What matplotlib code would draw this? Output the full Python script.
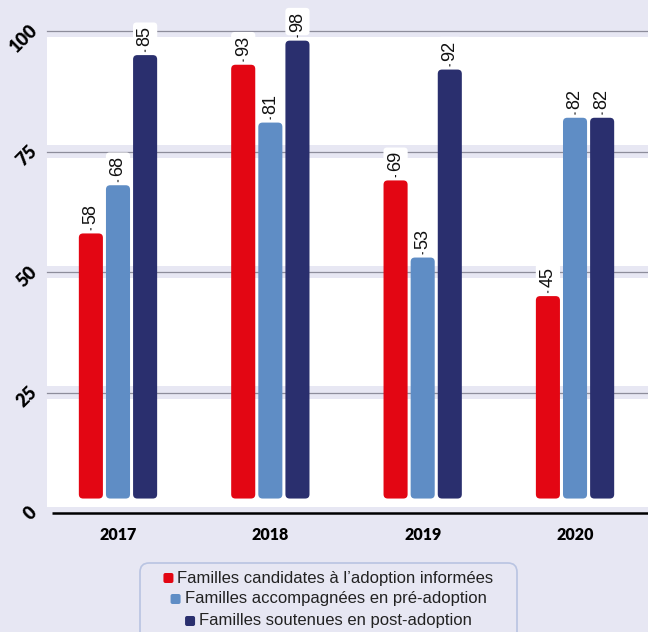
import matplotlib
matplotlib.use("Agg")
import matplotlib.pyplot as plt
import matplotlib.transforms as mtransforms
from matplotlib.patches import FancyBboxPatch
import numpy as np

years = ["2017", "2018", "2019", "2020"]
informees = [58, 93, 69, 45]
pre_adoption = [68, 81, 53, 82]
post_adoption = [95, 98, 92, 82]          # bar heights as drawn in the source
post_labels = ["85", "98", "92", "82"]    # value labels as printed in the source
series = ["Familles candidates à l\u2019adoption informées",
          "Familles accompagnées en pré-adoption",
          "Familles soutenues en post-adoption"]
yticks = [0, 25, 50, 75, 100]

BG = "#e7e7f3"; RED = "#e30613"; BLUE = "#5f8dc5"; NAVY = "#2a2f6e"
GRID = "#8d8d9b"
colors = [RED, BLUE, NAVY]

W, H = 648, 632
fig = plt.figure(figsize=(W/100, H/100), dpi=100)
fig.patch.set_facecolor(BG)

def fx(px): return px / W
def fy(py): return 1 - py / H

ax = fig.add_axes([fx(47), fy(513), 1 - fx(47), fy(31) - fy(513)])
ax.set_facecolor("white")
ax.set_ylim(0, 100)
ax.set_xlim(-0.466, 3.479)
for s in ax.spines.values():
    s.set_visible(False)

# grid bands + lines
for t in yticks:
    ax.axhspan(t - 1.3, t + 1.3, color=BG, lw=0, zorder=1, clip_on=False)
    if t > 0:
        ax.axhline(t, color=GRID, lw=0.9, zorder=1.5, clip_on=False)
ax.plot([0.008, 1], [0, 0], transform=ax.transAxes, color="black", lw=1.8,
        zorder=3, clip_on=False, solid_capstyle="butt")

x = np.arange(len(years))
offs = [-0.178, 0.0, 0.178]
bw = 0.158
base = 3
asp = (100 / 482) / (1 / 152.3)

label_sets = [[str(v) for v in informees], [str(v) for v in pre_adoption], post_labels]
for vals, labs, col, off in zip([informees, pre_adoption, post_adoption], label_sets, colors, offs):
    bars = ax.bar(x + off, np.array(vals) - base, bottom=base, width=bw, color=col)
    for b, lab in zip(bars, labs):
        bx, by, w_, h_ = b.get_x(), b.get_y(), b.get_width(), b.get_height()
        b.set_visible(False)
        ax.add_patch(FancyBboxPatch((bx, by), w_, h_,
                     boxstyle="round,pad=0,rounding_size=0.028",
                     mutation_aspect=asp, fc=col, ec="none", zorder=2))
        ax.annotate(lab, xy=(bx + w_/2, by + h_), xytext=(0, 6.5),
                    textcoords="offset points", rotation=90, ha="center", va="bottom",
                    fontsize=13, family="Liberation Sans", color="#111111", zorder=4,
                    bbox=dict(boxstyle="round,pad=0.2", fc="white", ec="none"),
                    arrowprops=dict(arrowstyle="-", color="#111111", lw=0.8,
                                    shrinkA=0, shrinkB=2.5))

ax.set_xticks(x)
ax.set_xticklabels(years, fontsize=11.5, fontweight="heavy", family="Lato")
ax.tick_params(axis="x", length=0, pad=10)
ax.set_yticks(yticks)
ax.set_yticklabels([str(t) for t in yticks], fontsize=13, fontweight="heavy",
                   family="Lato", rotation=45, ha="right", va="center",
                   rotation_mode="anchor")
ax.tick_params(axis="y", length=0, pad=9)
shift = mtransforms.ScaledTranslation(0, 3/100, fig.dpi_scale_trans)
for lbl in ax.get_yticklabels():
    lbl.set_transform(lbl.get_transform() + shift)

# legend
fig.patches.append(FancyBboxPatch((fx(140), fy(650)), fx(517) - fx(140), fy(563) - fy(650),
                   boxstyle="round,pad=0,rounding_size=0.014", mutation_aspect=W/H,
                   transform=fig.transFigure, fc=BG, ec="#b9c4e2", lw=1.2))
renderer = fig.canvas.get_renderer()
cx = 328.5
line_y = [578, 599, 621]
for name, col, ly in zip(series, colors, line_y):
    t = fig.text(0, fy(ly), name, ha="left", va="center", fontsize=12,
                 family="Liberation Sans", color="#222222")
    tw = t.get_window_extent(renderer).width
    msz, gap = 10, 4
    total = msz + gap + tw
    left = cx - total / 2
    t.set_x(fx(left + msz + gap))
    fig.patches.append(FancyBboxPatch((fx(left), fy(ly + msz/2)), fx(msz), fy(ly - msz/2) - fy(ly + msz/2),
                       boxstyle="round,pad=0,rounding_size=0.003", mutation_aspect=W/H,
                       transform=fig.transFigure, fc=col, ec="none"))

fig.savefig("out.png", dpi=100, facecolor=BG)
